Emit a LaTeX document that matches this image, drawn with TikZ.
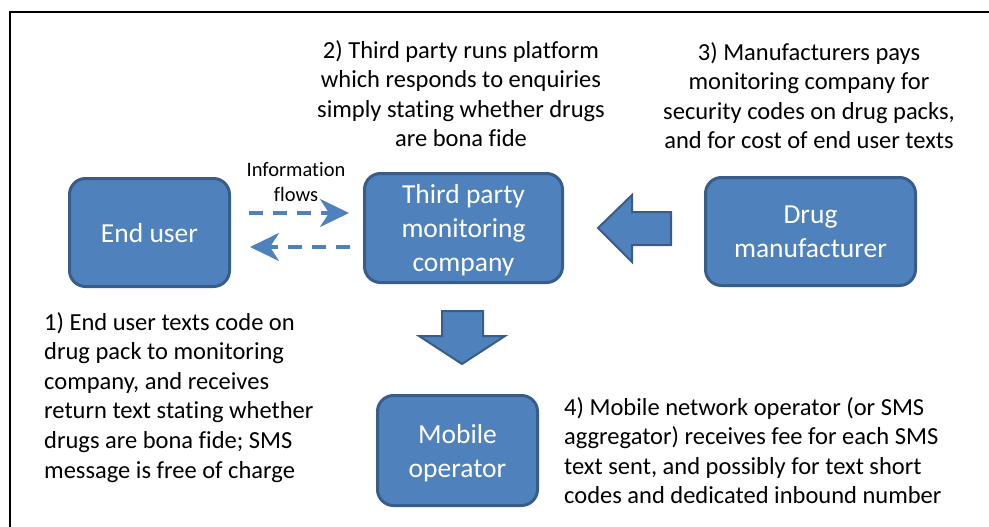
\documentclass[tikz,border=0pt]{standalone}
\usepackage{fontspec}
\setmainfont{Carlito}[Ligatures=NoCommon]
\usetikzlibrary{arrows.meta}
\definecolor{boxblue}{HTML}{4F81BD}
\definecolor{boxedge}{HTML}{385D8A}
\tikzset{
  box/.style={draw=boxedge, fill=boxblue, line width=3pt, rounded corners=16pt, text=white, align=center, inner sep=0pt, text depth=0pt, font=\fontsize{27.5}{34}\selectfont},
  note/.style={inner sep=0pt, font=\fontsize{24.5}{29.6}\selectfont},
  flow/.style={draw=boxblue, line width=3.5pt, dash pattern=on 14pt off 10pt, -{Stealth[length=29pt,width=28pt,inset=9pt]}},
  fatarrow/.style={draw=boxedge, fill=boxblue, line width=2pt, line join=miter}
}
\begin{document}
\begin{tikzpicture}[x=1pt, y=-1pt]
\useasboundingbox (0,0) rectangle (989,527);
\draw[line width=2.5pt] (10,527) -- (10,12) -- (989,12);
\node[box, minimum width=160pt, minimum height=108pt] (euser) at (149.5,232.5){End user};
\node[box, minimum width=198pt, minimum height=109pt] (tpmc) at (463.5,228){Third party\\monitoring\\company};
\node[box, minimum width=210pt, minimum height=108pt] (drugm) at (810.5,231.5){Drug\\manufacturer};
\node[box, minimum width=160pt, minimum height=110pt] (mobop) at (457.5,450.5){Mobile\\operator};
\node[note, align=center, anchor=north] (txt2) at (461,40){2) Third party runs platform\\which responds to enquiries\\simply stating whether drugs\\are bona fide};
\node[note, align=center, anchor=north] (txt3) at (809,42){3) Manufacturers pays\\monitoring company for\\security codes on drug packs,\\and for cost of end user texts};
\node[note, align=left, anchor=north west] (txt1) at (44,312){1) End user texts code on\\drug pack to monitoring\\company, and receives\\return text stating whether\\drugs are bona fide; SMS\\message is free of charge};
\node[note, align=left, anchor=north west] (txt4) at (564,397){4) Mobile network operator (or SMS\\aggregator) receives fee for each SMS\\text sent, and possibly for text short\\codes and dedicated inbound number};
\node[inner sep=0pt, align=center, anchor=north, font=\fontsize{20.5}{25}\selectfont] (info) at (296,162){Information\\flows};
% information flows
\coordinate (fw0) at (249,213);
\coordinate (fw1) at (349,213);
\coordinate (bw0) at (350,247);
\coordinate (bw1) at (250,247);
\draw[flow](fw0) -- (fw1);
\draw[flow](bw0) -- (bw1);
% payment arrows
\draw[fatarrow] (598,228) -- (632,195) -- (632,212) -- (671,212) -- (671,245) -- (632,245) -- (632,262) -- cycle;
\draw[fatarrow] (442,311) -- (483,311) -- (483,336) -- (505,336) -- (462,364) -- (419,336) -- (442,336) -- cycle;
\end{tikzpicture}
\end{document}
